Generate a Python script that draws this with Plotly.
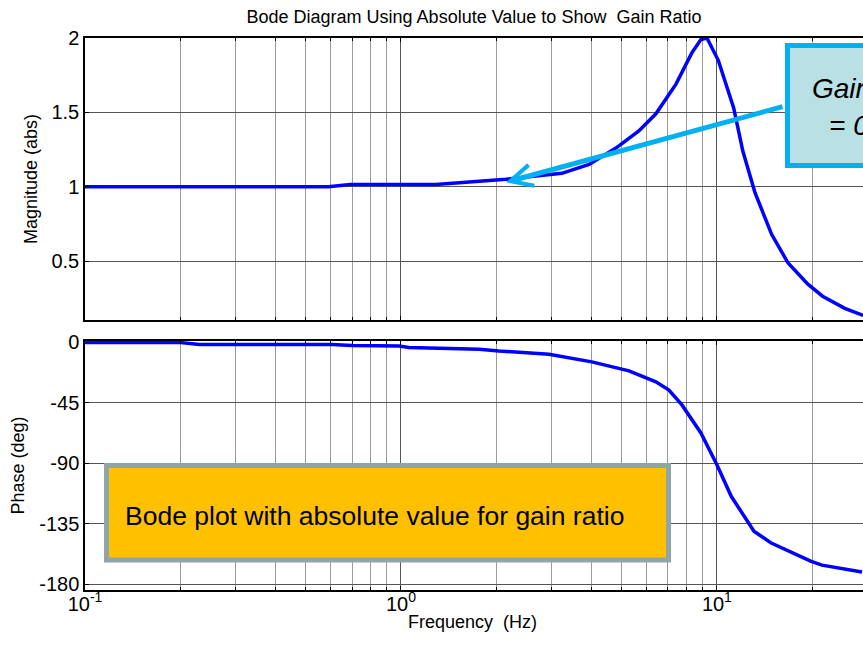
import math
import plotly.graph_objects as go

# Frequency response samples (Hz), magnitude as an absolute gain ratio
mag_freq = [0.1, 0.59, 0.69, 1.29, 2.15, 3.23, 3.94, 4.79, 5.66, 6.41, 7.42, 8.33,
            8.9, 9.3, 10.1, 11.3, 12.08, 13.2, 14.9, 16.8, 19.4, 21.6, 25.4, 29.0]
mag_abs = [1.0, 1.0, 1.015, 1.015, 1.05, 1.09, 1.15, 1.26, 1.375, 1.49, 1.69, 1.90,
           1.99, 2.0, 1.85, 1.53, 1.24, 0.96, 0.68, 0.487, 0.345, 0.264, 0.182, 0.135]

# Phase samples (Hz, degrees)
phase_freq = [0.1, 0.201, 0.23, 0.605, 0.70, 0.985, 1.06, 1.45, 1.77, 2.04, 2.94,
              4.02, 4.45, 5.27, 6.41, 7.05, 7.75, 8.90, 10.0, 11.1, 13.1, 14.8,
              19.8, 21.5, 28.8]
phase_deg = [-0.4, -0.5, -1.9, -1.9, -2.7, -3.0, -4.1, -4.9, -5.4, -6.7, -9.1,
             -14.8, -17.2, -21.5, -29.6, -35.7, -46.8, -67.6, -91.2, -114.7,
             -140.6, -149.2, -162.8, -165.8, -170.9]

# Axis ticks
decade_vals = [0.1, 1, 10]
decade_text = ["10<sup>-1</sup>", "10<sup>0</sup>", "10<sup>1</sup>"]
minor_vals = [m * d for d in (0.1, 1, 10) for m in range(2, 10) if m * d < 30]
mag_ticks = [0.5, 1, 1.5, 2]
mag_ticktext = ["0.5", "1", "1.5", "2"]
phase_ticks = [-180, -135, -90, -45, 0]
phase_ticktext = ["-180", "-135", "-90", "-45", "0"]

# Callout contents
note_text = "Bode plot with absolute value for gain ratio"
callout_line1 = "Gain ratio 1"
callout_line2 = "= 0 dB"
arrow_target = (2.15, 1.03)

W, H = 863, 659
ML, MR, MT, MB = 85, 0, 38, 69
PW, PH = W - ML - MR, H - MT - MB
FONT = "Liberation Sans, Arial, Helvetica, sans-serif"
TICK_FONT = dict(family=FONT, size=20, color="black")
LABEL_FONT = dict(family=FONT, size=18, color="black")


def px(xp):
    return (xp - ML) / PW


def py(yp):
    return (H - MB - yp) / PH


fig = go.Figure()
fig.add_trace(go.Scatter(x=mag_freq, y=mag_abs, mode="lines",
                         line=dict(color="#0000FF", width=3.5),
                         xaxis="x", yaxis="y", showlegend=False))
fig.add_trace(go.Scatter(x=phase_freq, y=phase_deg, mode="lines",
                         line=dict(color="#0000FF", width=3.5),
                         xaxis="x2", yaxis="y2", showlegend=False))

xcommon = dict(type="log", range=[-1, math.log10(29.0)],
               tickvals=decade_vals, ticktext=decade_text,
               showgrid=True, gridcolor="#555555", gridwidth=1,
               showline=True, linecolor="black", linewidth=1.5, mirror="ticks",
               ticks="inside", ticklen=4, tickcolor="black",
               minor=dict(tickvals=minor_vals, showgrid=True, gridcolor="#9a9a9a",
                          gridwidth=1, ticks="inside", ticklen=3, tickcolor="black"),
               zeroline=False, tickfont=TICK_FONT)

ycommon = dict(showgrid=True, gridcolor="#555555",
               showline=True, linecolor="black", linewidth=1.5,
               ticks="inside", ticklen=4, tickcolor="black", zeroline=False,
               tickfont=TICK_FONT)

top_dom = [py(320), 1.0]
bot_dom = [0.0, py(341)]

fig.update_layout(
    width=W, height=H,
    margin=dict(l=ML, r=MR, t=MT, b=MB),
    paper_bgcolor="white", plot_bgcolor="white",
    font=dict(family=FONT, color="black"),
    title=dict(text="Bode Diagram Using Absolute Value to Show\u00a0 Gain Ratio",
               x=px(474), xref="paper", xanchor="center",
               y=1 - 17 / H, yref="container", yanchor="middle",
               font=dict(family=FONT, size=18, color="black")),
    xaxis=dict(xcommon, anchor="y", showticklabels=False),
    yaxis=dict(ycommon, domain=top_dom, range=[0.104, 2.0], tickvals=mag_ticks,
               ticktext=mag_ticktext,
               title=dict(text="Magnitude (abs)", standoff=9, font=LABEL_FONT)),
    xaxis2=dict(xcommon, anchor="y2", matches="x", ticklabelstandoff=-5),
    yaxis2=dict(ycommon, domain=bot_dom, range=[-184.3, 0.7], tickvals=phase_ticks,
                ticktext=phase_ticktext,
                title=dict(text="Phase (deg)", standoff=10, font=LABEL_FONT)),
)

# Frequency axis label, set just under the decade labels
fig.add_annotation(xref="paper", yref="paper", x=px(472), y=py(622),
                   xanchor="center", yanchor="middle", showarrow=False,
                   text="Frequency\u00a0 (Hz)", font=LABEL_FONT)

# Orange note box in the phase panel
fig.add_shape(type="rect", xref="paper", yref="paper",
              x0=px(106.5), x1=px(668.5), y0=py(560), y1=py(465.5),
              fillcolor="#FFC000", line=dict(color="#8FA5A7", width=5))
fig.add_annotation(xref="paper", yref="paper", x=px(123), y=py(516),
                   xanchor="left", yanchor="middle", showarrow=False,
                   text=note_text, font=dict(family=FONT, size=26.5, color="black"))

# Callout box (runs off the right edge) and its arrow
fig.add_shape(type="rect", xref="paper", yref="paper",
              x0=px(787.5), x1=px(960), y0=py(165.5), y1=py(45.5),
              fillcolor="#B9E0E4", line=dict(color="#00B0F0", width=5))
fig.add_annotation(xref="paper", yref="paper", x=px(810), y=py(89),
                   xanchor="left", yanchor="middle", showarrow=False,
                   text="<i>" + callout_line1 + "</i>",
                   font=dict(family=FONT, size=28, color="black"))
fig.add_annotation(xref="paper", yref="paper", x=px(827), y=py(125),
                   xanchor="left", yanchor="middle", showarrow=False,
                   text="<i>" + callout_line2 + "</i>",
                   font=dict(family=FONT, size=28, color="black"))
fig.add_annotation(x=math.log10(arrow_target[0]), y=arrow_target[1],
                   xref="x", yref="y", text="", showarrow=True,
                   ax=278, ay=-76, arrowhead=5, arrowsize=0.85, arrowwidth=5,
                   arrowcolor="#00B0F0", standoff=0)

fig.write_html("out.html")
